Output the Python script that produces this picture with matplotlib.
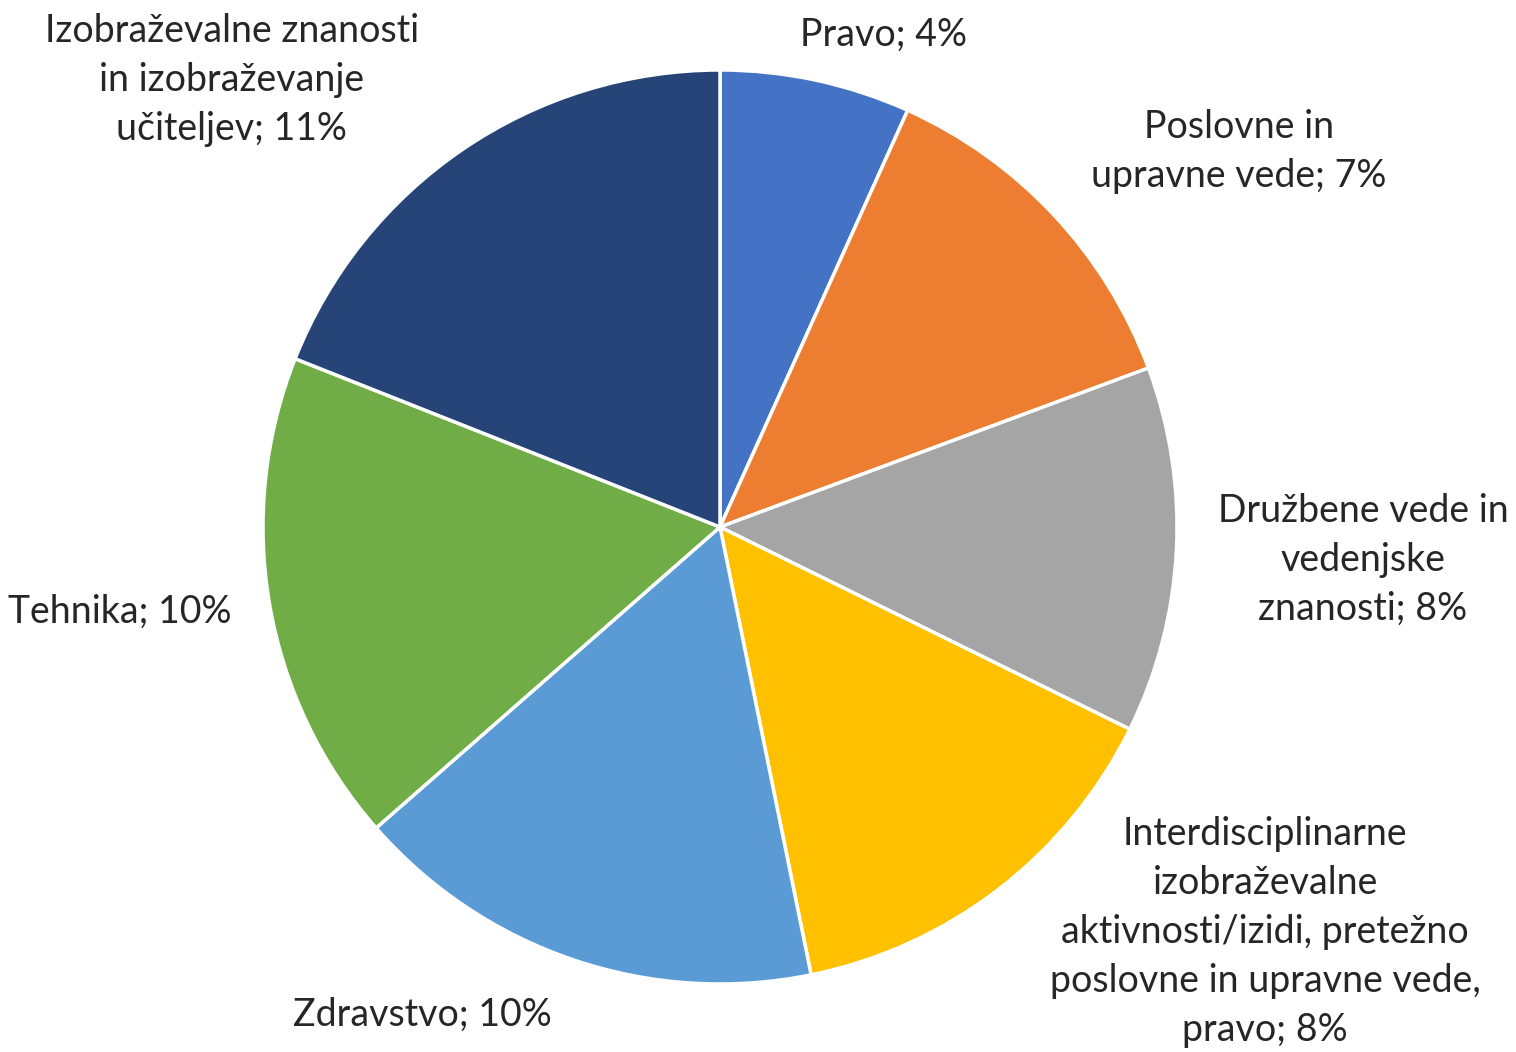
import matplotlib.pyplot as plt

plt.rcParams['font.family'] = ['Lato', 'DejaVu Sans']

labels = ['Pravo', 'Poslovne in\nupravne vede', 'Družbene vede in\nvedenjske\nznanosti',
          'Interdisciplinarne\nizobraževalne\naktivnosti/izidi, pretežno\nposlovne in upravne vede,\npravo',
          'Zdravstvo', 'Tehnika', 'Izobraževalne znanosti\nin izobraževanje\nučiteljev']
values = [3.9, 7.3, 7.5, 8.4, 9.7, 10.1, 11.0]
shown = [4, 7, 8, 8, 10, 10, 11]
colors = ['#4472C4', '#ED7D31', '#A5A5A5', '#FFC000', '#5B9BD5', '#70AD47', '#264478']

# label centres (in units of pie radius)
label_pos = [(0.357, 1.077), (1.135, 0.821), (1.407, -0.072), (1.193, -0.886),
             (-0.652, -1.068), (-1.313, -0.186), (-1.068, 0.978)]

fig = plt.figure(figsize=(15.16, 10.52), dpi=100)
ax = fig.add_axes([0, 0, 1, 1])
ax.pie(values, colors=colors, startangle=90, counterclock=False, radius=1,
       wedgeprops=dict(edgecolor='white', linewidth=2.5))
for lab, v, (x, y) in zip(labels, shown, label_pos):
    ax.text(x, y, f'{lab}; {v}%', ha='center', va='center', fontsize=27,
            color='#262626', linespacing=1.45)
ax.set_xlim(-720 / 457, (1516 - 720) / 457)
ax.set_ylim(-(1052 - 527) / 457, 527 / 457)
ax.set_aspect('equal')
ax.axis('off')
fig.savefig('out.png', dpi=100, facecolor='white')
